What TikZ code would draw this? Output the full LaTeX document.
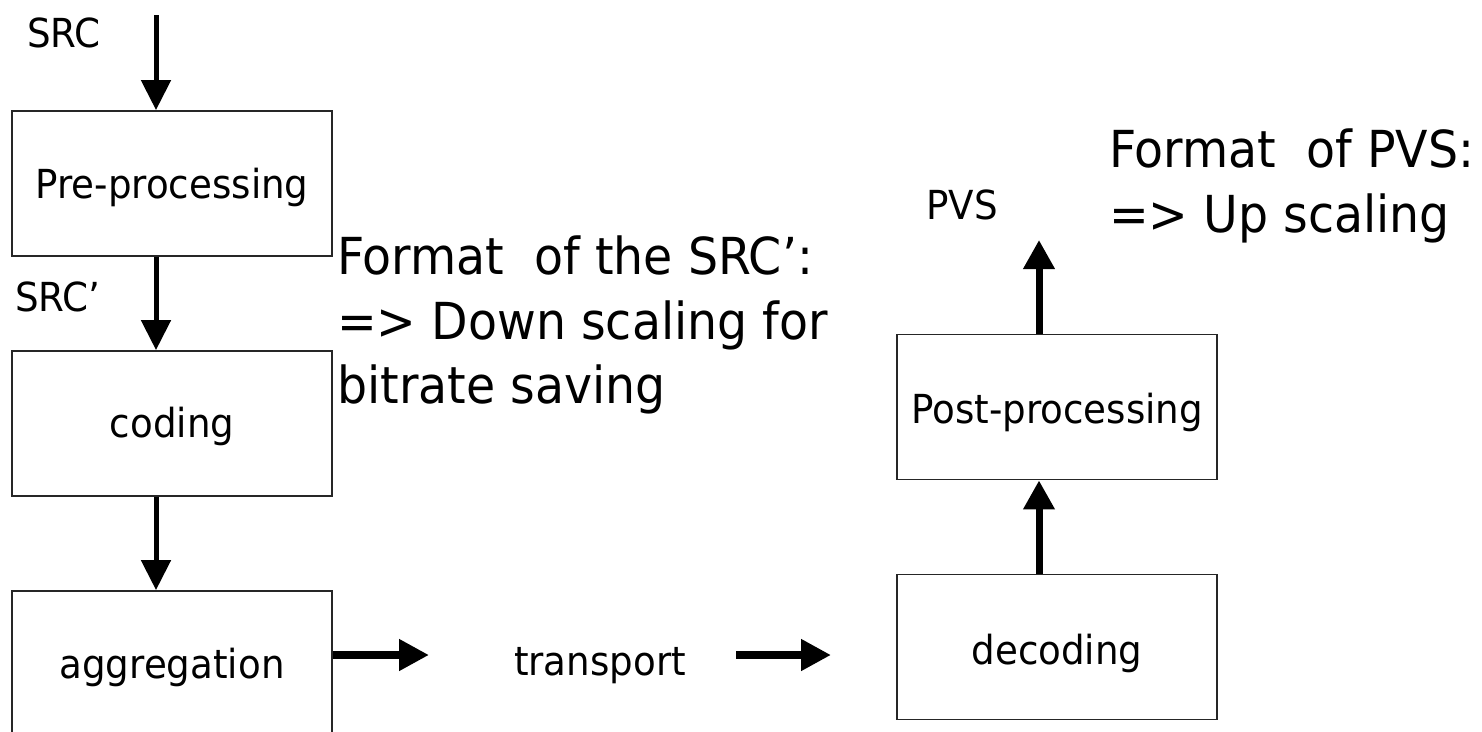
\documentclass[tikz,border=0pt]{standalone}
\usepackage{fontspec}
\setmainfont{DejaVu Sans}[FakeStretch=0.93]
\usetikzlibrary{arrows.meta}
\newcommand\smallf{\fontsize{40pt}{46pt}\selectfont}
\newcommand\bigf{\fontsize{51pt}{64.5pt}\selectfont}
\begin{document}
\begin{tikzpicture}[x=1pt,y=-1pt,
  box/.style={draw=black!85, line width=1.8pt, minimum width=320pt, minimum height=145pt,
              inner sep=0pt, font=\smallf, text depth=9pt, text height=#1},
  box/.default=40pt,
  lbl/.style={inner sep=0pt, font=\smallf},
  big/.style={inner sep=0pt, font=\bigf, align=left, anchor=north west},
  varrow/.style={line width=5pt, -{Triangle[length=30pt,width=29pt]}},
  harrow/.style={line width=8pt, -{Triangle[length=30pt,width=30pt]}},
  rarrow/.style={line width=7pt, -{Triangle[length=29pt,width=30pt]}}]
\useasboundingbox (0,0) rectangle (1482,731);
\fill[white] (0,0) rectangle (1482,731);

% boxes
\node[box=38pt] (pre) at (172,183.5) {Pre-processing};
\node[box=37pt] (cod) at (172,423.5) {coding};
\node[box=38pt, minimum height=146pt] (agg) at (172,664) {aggregation};
\node[box=41pt] (post) at (1057,407) {Post-processing};
\node[box=44pt] (dec) at (1057,647) {decoding};

% labels
\node[lbl, anchor=base west] (src) at (27,47) {SRC};
\node[lbl, anchor=base west] (srcp) at (15,311) {SRC’};
\node[lbl, anchor=base] (trans) at (600,675) {transport};
\node[lbl, anchor=base west] (pvs) at (926,219) {PVS};
\node[big] (fsrc) at (337,236) {Format\ \ of the SRC’:\\=> Down scaling for\\bitrate saving};
\node[big] (fpvs) at (1109,129) {Format\ \ of PVS:\\=> Up scaling};

% free ends
\coordinate (srcin) at (156,15);
\coordinate (a1e) at (429,655);
\coordinate (a2s) at (736,655);
\coordinate (a2e) at (831,655);
\coordinate (pvsout) at (1039,240);

% connectors
\draw[varrow] (srcin) -- ([xshift=-16pt]pre.north);
\draw[varrow] ([xshift=-16pt]pre.south) -- ([xshift=-16pt]cod.north);
\draw[varrow] ([xshift=-16pt]cod.south) -- ([xshift=-16pt]agg.north);
\draw[harrow] ([yshift=9pt]agg.east) -- (a1e);
\draw[harrow] (a2s) -- (a2e);
\draw[rarrow] ([xshift=-18pt]dec.north) -- ([xshift=-18pt]post.south);
\draw[rarrow] ([xshift=-18pt]post.north) -- (pvsout);
\end{tikzpicture}
\end{document}
